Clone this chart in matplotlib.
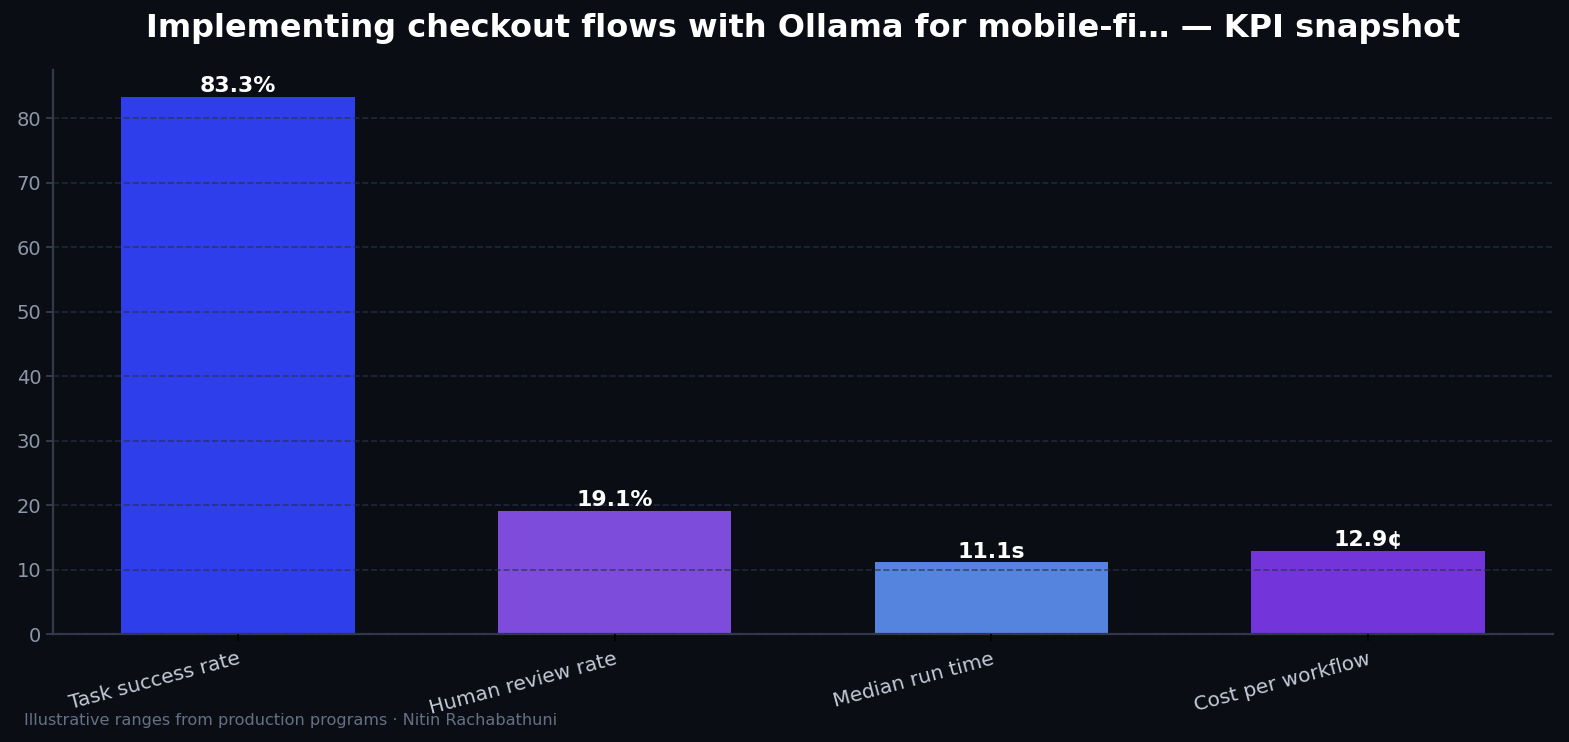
import matplotlib
matplotlib.use('Agg')
from matplotlib import pyplot as plt

plt.rcParams['font.family'] = ['DejaVu Sans']

# KPI snapshot values
categories = ['Task success rate', 'Human review rate', 'Median run time', 'Cost per workflow']
values = [83.3, 19.1, 11.1, 12.9]
value_labels = ['83.3%', '19.1%', '11.1s', '12.9¢']
bar_colors = ['#2e3eea', '#7d4cdb', '#5584de', '#7335d9']

bg = '#0a0d14'

fig = plt.figure(figsize=(15.69, 7.42), dpi=100, facecolor=bg)
ax = fig.add_axes([53/1569, 1 - 634/742, 1500/1569, 564/742])
ax.set_facecolor(bg)

x = range(len(categories))
bars = ax.bar(x, values, width=0.62, color=bar_colors, zorder=1)
ax.set_ylim(0, 87.5)

ax.grid(True, axis='y', linestyle='--', color='#2a3145', alpha=0.7, linewidth=1.2, zorder=2)
ax.set_axisbelow(False)

for b, lab in zip(bars, value_labels):
    ax.text(b.get_x() + b.get_width()/2, b.get_height() + 0.1, lab,
            ha='center', va='bottom', color='white', fontsize=15.8, fontweight='bold', zorder=3)

ax.set_xticks(list(x))
ax.set_xticklabels(categories, rotation=15, ha='right', rotation_mode='anchor',
                   color='#c5cad6', fontsize=14.5)
ax.tick_params(axis='x', colors='#000000', labelcolor='#c5cad6', length=5, width=1.2, pad=6)
ax.tick_params(axis='y', colors='#3a4252', labelcolor='#8e97a8', labelsize=14, length=5, width=1.2)

for s in ['top', 'right']:
    ax.spines[s].set_visible(False)
for s in ['left', 'bottom']:
    ax.spines[s].set_color('#333a48')
    ax.spines[s].set_linewidth(1.6)

ax.set_title('Implementing checkout flows with Ollama for mobile-fi… — KPI snapshot',
             color='white', fontsize=23, fontweight='bold', pad=24)
fig.text(24/1569, 1 - 720/742, 'Illustrative ranges from production programs · Nitin Rachabathuni',
         ha='left', va='center', color='#667085', fontsize=11.6)

plt.savefig('out.png', dpi=100, facecolor=bg)
